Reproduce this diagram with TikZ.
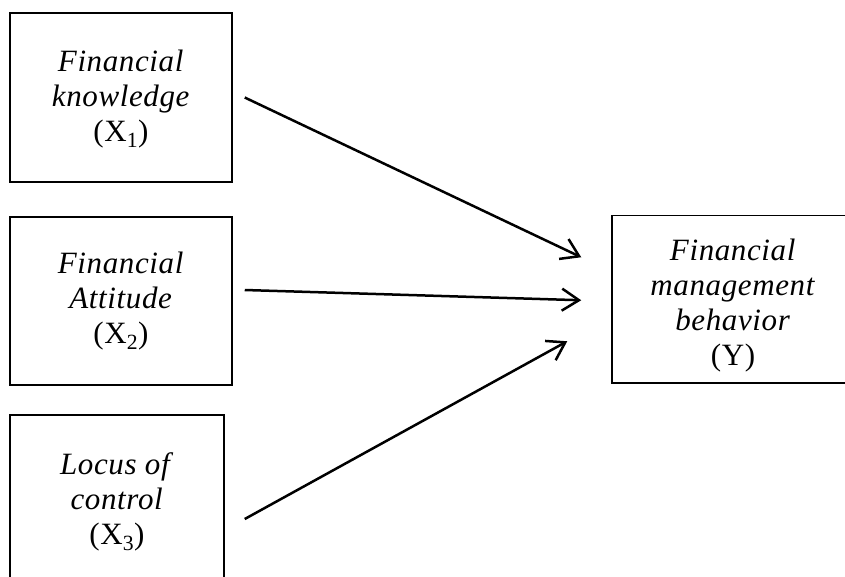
\documentclass[tikz,border=0pt]{standalone}
\usepackage{fontspec}
\setmainfont{Liberation Serif}
\usetikzlibrary{arrows.meta}
\tikzset{
  txt/.style={inner sep=0pt, align=center,
    font=\fontsize{31}{35}\selectfont\addfontfeatures{LetterSpace=2}},
  box/.style={txt, draw=black, line width=1.5pt, rectangle},
  conn/.style={draw=black, line width=2.5pt, -{Straight Barb[length=17pt,width=22pt]}}
}
\begin{document}
\begin{tikzpicture}[x=1pt,y=-1pt]
\useasboundingbox (0,0) rectangle (845,576);
\clip (0,0) rectangle (845,576);
\node[box, minimum width=222pt, minimum height=169pt] (b1) at (121,97.5) {};
\node[txt] (t1) at ([yshift=-2pt]b1.center)
  {\textit{Financial}\\ \textit{knowledge}\\ (X\textsubscript{1})};
\node[box, minimum width=222pt, minimum height=168pt] (b2) at (121,301)
  {\textit{Financial}\\ \textit{Attitude}\\ (X\textsubscript{2})};
\node[box, minimum width=214pt, minimum height=174pt] (b3) at (117,502)
  {\textit{Locus of}\\ \textit{control}\\ (X\textsubscript{3})};
\node[box, minimum width=242pt, minimum height=167.5pt] (y) at (733,299.25) {};
\node[txt] (ty) at ([yshift=-6pt]y.center)
  {\textit{Financial}\\ \textit{management}\\ \textit{behavior}\\ (Y)};
\draw[conn] ([xshift=12pt]b1.east) -- ([xshift=-30pt,yshift=42pt]y.west);
\draw[conn] ([xshift=12pt,yshift=11pt]b2.east) -- ([xshift=-30pt,yshift=-1pt]y.west);
\draw[conn] ([xshift=20pt,yshift=-17pt]b3.east) -- ([xshift=-44pt,yshift=-42pt]y.west);
\end{tikzpicture}
\end{document}
